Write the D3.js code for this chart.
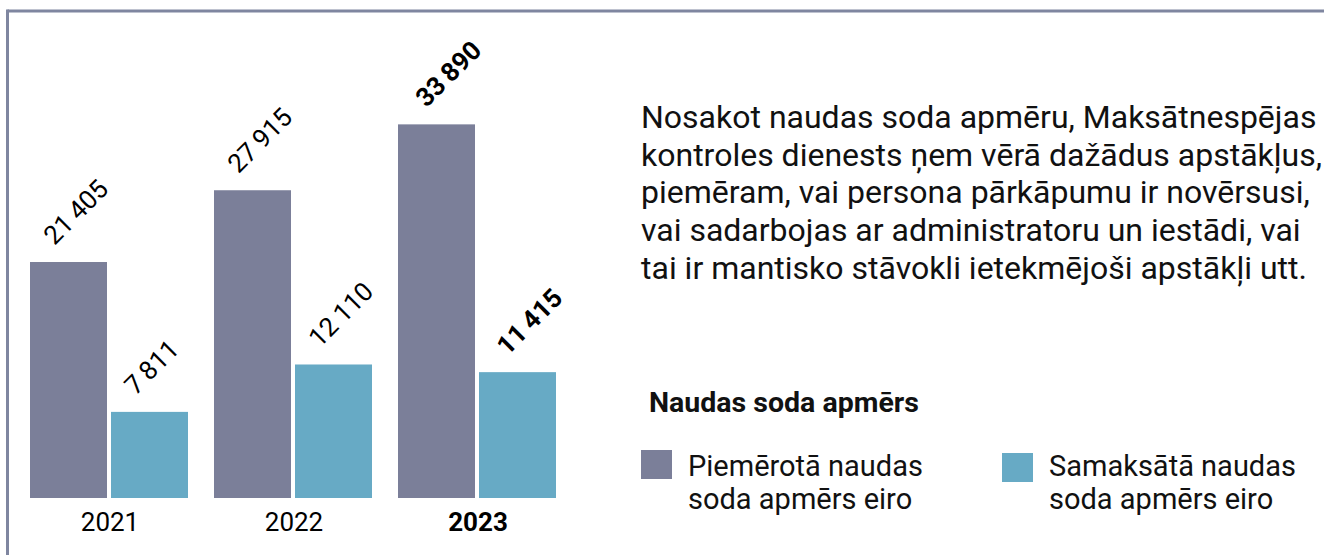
<!DOCTYPE html>
<html>
<head>
<meta charset="utf-8">
<script src="https://cdn.jsdelivr.net/npm/d3@7"></script>
<style>
  html, body { margin: 0; padding: 0; background: #ffffff; }
  svg { display: block; font-family: Roboto, "Noto Sans", sans-serif; }
</style>
</head>
<body>
<svg id="chart" width="1324" height="555"></svg>
<script>
// ---- data ----
const years = ["2021", "2022", "2023"];
const seriesKeys = ["applied", "paid"];
const appliedValues = [21405, 27915, 33890];
const paidValues = [7811, 12110, 11415];
const boldYears = ["2023"];
const legendTitle = "Naudas soda apmērs";
const legendLabels = [["Piemērotā naudas", "soda apmērs eiro"], ["Samaksātā naudas", "soda apmērs eiro"]];
const noteLines = [
  "Nosakot naudas soda apmēru, Maksātnespējas",
  "kontroles dienests ņem vērā dažādus apstākļus,",
  "piemēram, vai persona pārkāpumu ir novērsusi,",
  "vai sadarbojas ar administratoru un iestādi, vai",
  "tai ir mantisko stāvokli ietekmējoši apstākļi utt."
];

const colors = { applied: "#7b7f99", paid: "#67aac5" };
const frameColor = "#7f86a0";

const svg = d3.select("#chart");

// frame (top and left lines)
svg.append("line").attr("x1", 7.5).attr("x2", 1324).attr("y1", 11).attr("y2", 11)
  .attr("stroke", frameColor).attr("stroke-width", 3);
svg.append("line").attr("x1", 7.5).attr("x2", 7.5).attr("y1", 9.5).attr("y2", 555)
  .attr("stroke", frameColor).attr("stroke-width", 3);

// scales
const x0 = d3.scaleBand().domain(years).range([30, 556]).paddingInner(26 / 184).paddingOuter(0);
const x1 = d3.scaleBand().domain(seriesKeys).range([0, x0.bandwidth()]).paddingInner(4 / 81).paddingOuter(0);
const y = d3.scaleLinear().domain([0, 40000]).range([498, 57]);

const locale = d3.formatLocale({ decimal: ",", thousands: "\u2009", grouping: [3], currency: ["", " €"] });
const fmt = locale.format(",d");

const rows = years.map((yr, i) => ({ year: yr, applied: appliedValues[i], paid: paidValues[i] }));

const groups = svg.append("g").selectAll("g").data(rows).join("g")
  .attr("transform", d => `translate(${x0(d.year)},0)`);

groups.selectAll("rect").data(d => seriesKeys.map(k => ({ key: k, value: d[k], year: d.year })))
  .join("rect")
  .attr("x", d => x1(d.key))
  .attr("y", d => y(d.value))
  .attr("width", x1.bandwidth())
  .attr("height", d => y(0) - y(d.value))
  .attr("fill", d => colors[d.key]);

groups.selectAll("text.val").data(d => seriesKeys.map(k => ({ key: k, value: d[k], year: d.year })))
  .join("text")
  .attr("class", "val")
  .attr("transform", d => {
    const b = boldYears.includes(d.year);
    return `translate(${x1(d.key) + x1.bandwidth() / 2 - (b ? 10 : 14)},${y(d.value) - 16}) rotate(-45)`;
  })
  .attr("font-size", 26)
  .attr("font-weight", d => boldYears.includes(d.year) ? "bold" : "normal")
  .attr("fill", "#000")
  .text(d => fmt(d.value));

// x axis labels
svg.append("g").selectAll("text").data(years).join("text")
  .attr("x", d => x0(d) + x0.bandwidth() / 2 + 1)
  .attr("y", 531)
  .attr("text-anchor", "middle")
  .attr("font-size", 26)
  .attr("font-weight", d => boldYears.includes(d) ? "bold" : "normal")
  .attr("fill", "#000")
  .text(d => d);

// note text
const note = svg.append("text").attr("x", 641).attr("y", 128).attr("font-size", 32).attr("fill", "#111");
note.selectAll("tspan").data(noteLines).join("tspan")
  .attr("x", 641).attr("dy", (d, i) => i === 0 ? 0 : 37.7).text(d => d);

// legend
svg.append("text").attr("x", 649).attr("y", 412).attr("font-size", 28.5).attr("font-weight", "bold")
  .attr("fill", "#111").text(legendTitle);

const legendX = [641, 1002];
const lg = svg.append("g").selectAll("g").data(seriesKeys).join("g")
  .attr("transform", (d, i) => `translate(${legendX[i]},0)`);
lg.append("rect").attr("x", 0).attr("y", (d, i) => i === 0 ? 450 : 453).attr("width", 31).attr("height", 29)
  .attr("fill", d => colors[d]);
lg.append("text").attr("font-size", 29).attr("fill", "#111")
  .selectAll("tspan").data((d, i) => legendLabels[i]).join("tspan")
  .attr("x", 47).attr("y", (d, i) => 476 + i * 33).text(d => d);
</script>
</body>
</html>
